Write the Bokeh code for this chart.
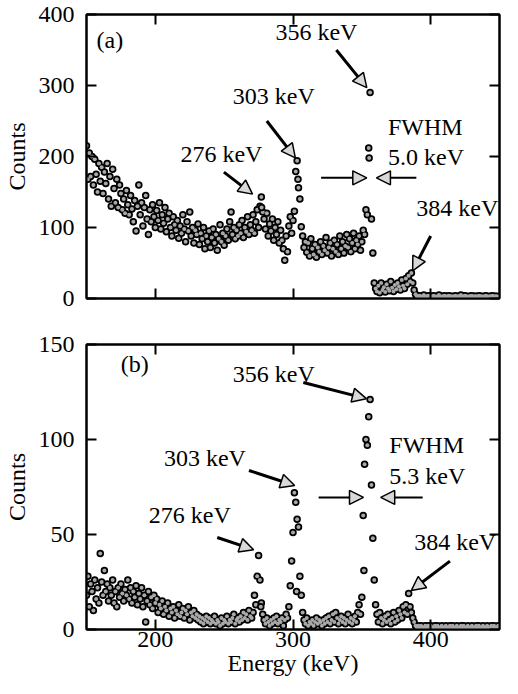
from bokeh.plotting import figure
from bokeh.layouts import column
from bokeh.models import (Range1d, LinearAxis, FixedTicker, CustomJSTickFormatter,
                          Label, Arrow, NormalHead, ColumnDataSource)
from bokeh.embed import file_html
from bokeh.resources import INLINE

FONT = "Liberation Serif"

# ---------------- data ----------------
x_ticks = [200, 300, 400]
a_y_ticks = [0, 100, 200, 300, 400]
b_y_ticks = [0, 50, 100, 150]

a_energy = list(range(150, 451))
a_counts = [
    215, 168, 205, 172, 200, 160, 196, 175, 150, 190,
    165, 185, 148, 178, 162, 190, 140, 172, 130, 182,
    155, 135, 168, 128, 160, 148, 125, 140, 120, 152,
    132, 118, 145, 126, 108, 138, 95, 130, 160, 118,
    135, 102, 128, 145, 112, 90, 125, 108, 132, 115,
    100, 124, 110, 135, 98, 118, 106, 128, 94, 112,
    120, 100, 88, 115, 104, 96, 110, 85, 102, 92,
    118, 98, 80, 108, 95, 122, 88, 100, 78, 96,
    90, 105, 76, 92, 84, 100, 70, 88, 80, 95,
    72, 86, 98, 78, 90, 68, 84, 104, 80, 92,
    75, 88, 98, 82, 108, 122, 90, 100, 84, 96,
    88, 104, 92, 110, 86, 100, 94, 115, 90, 104,
    96, 118, 92, 108, 125, 100, 130, 143, 122, 112,
    98, 120, 88, 105, 95, 112, 82, 100, 90, 108,
    78, 96, 82, 70, 54, 88, 66, 102, 115, 92,
    110, 123, 179, 194, 156, 140, 101, 88, 72, 80,
    65, 78, 60, 84, 70, 62, 76, 58, 72, 66,
    80, 62, 74, 68, 86, 64, 72, 78, 60, 70,
    82, 66, 76, 62, 88, 70, 80, 64, 74, 90,
    72, 84, 66, 78, 92, 70, 82, 76, 88, 68,
    80, 96, 90, 125, 118, 212, 290, 112, 64, 22,
    14, 10, 18, 8, 22, 12, 16, 9, 20, 14,
    11, 24, 15, 10, 19, 13, 22, 17, 12, 26,
    18, 14, 28, 20, 32, 24, 36, 22, 12, 6,
    3, 3, 4, 2, 3, 5, 3, 2, 4, 3,
    3, 2, 4, 3, 2, 3, 5, 3, 2, 3,
    4, 3, 2, 4, 3, 3, 2, 3, 4, 2,
    3, 3, 5, 2, 3, 4, 3, 2, 3, 3,
    4, 2, 3, 3, 2, 4, 3, 3, 2, 3,
    4, 3, 2, 3, 3, 4, 2, 3, 3, 2,
    3,
]
a_extra_energy = [355.3, 303.6, 277.2]
a_extra_counts = [198, 168, 128]

b_energy = list(range(150, 451))
b_counts = [
    18, 28, 12, 24, 20, 10, 26, 16, 22, 14,
    40, 25, 18, 31, 20, 24, 15, 22, 18, 26,
    14, 20, 12, 22, 17, 24, 19, 15, 21, 18,
    26, 16, 22, 14, 20, 17, 23, 13, 19, 16,
    22, 12, 18, 4, 15, 20, 13, 17, 11, 18,
    14, 16, 9, 13, 11, 15, 8, 12, 10, 14,
    7, 11, 9, 12, 6, 10, 8, 13, 7, 9,
    11, 6, 10, 8, 12, 5, 9, 7, 10, 6,
    8, 5, 7, 4, 6, 3, 5, 7, 4, 6,
    3, 5, 4, 7, 3, 5, 4, 2, 6, 3,
    5, 4, 7, 3, 5, 4, 6, 8, 3, 5,
    6, 4, 7, 5, 9, 6, 8, 5, 10, 7,
    6, 9, 18, 13, 28, 39, 26, 14, 8, 5,
    3, 6, 4, 2, 5, 3, 6, 4, 7, 3,
    5, 4, 6, 2, 5, 8, 6, 12, 23, 36,
    51, 72, 67, 58, 54, 28, 18, 9, 5, 3,
    6, 2, 4, 3, 5, 2, 4, 6, 3, 5,
    4, 2, 5, 3, 6, 4, 7, 3, 5, 8,
    4, 9, 6, 3, 5, 7, 4, 6, 3, 5,
    8, 4, 6, 3, 5, 7, 4, 9, 13, 8,
    17, 60, 87, 100, 97, 112, 121, 76, 48, 26,
    13, 8, 4, 9, 6, 3, 5, 7, 4, 8,
    5, 3, 6, 9, 4, 7, 5, 10, 8, 6,
    12, 9, 13, 8, 19, 12, 9, 6, 4, 2,
    1, 2, 1, 2, 1, 1, 2, 1, 2, 1,
    2, 1, 1, 2, 1, 2, 1, 1, 2, 1,
    1, 2, 1, 1, 2, 1, 2, 1, 1, 2,
    1, 1, 2, 1, 2, 1, 1, 2, 1, 1,
    2, 1, 1, 2, 1, 2, 1, 1, 2, 1,
    1, 2, 1, 1, 2, 1, 2, 1, 1, 2,
    1,
]
b_extra_energy = [351.5, 302.6, 276.6]
b_extra_counts = [31, 20, 12]

# ---------------- helpers ----------------
def blank():
    return CustomJSTickFormatter(code="return ''")


def style_axis(ax, ticks, standoff):
    ax.ticker = FixedTicker(ticks=ticks)
    ax.axis_line_width = 2
    ax.axis_line_color = "black"
    ax.major_tick_line_width = 2
    ax.major_tick_line_color = "black"
    ax.major_tick_in = 10
    ax.major_tick_out = 0
    ax.minor_tick_line_color = None
    ax.major_label_text_font = FONT
    ax.major_label_text_font_size = "24px"
    ax.major_label_text_color = "black"
    ax.major_label_standoff = standoff
    ax.axis_label_text_font = FONT
    ax.axis_label_text_font_size = "24px"
    ax.axis_label_text_font_style = "normal"
    ax.axis_label_text_color = "black"


def make_panel(height, y_max, y_ticks, border_top, border_bottom, show_x):
    p = figure(width=502, height=height,
               x_range=Range1d(150, 450), y_range=Range1d(0, y_max),
               output_backend="svg", toolbar_location=None,
               min_border_left=74, min_border_right=3,
               min_border_top=border_top, min_border_bottom=border_bottom)
    p.grid.visible = False
    p.outline_line_color = "black"
    p.outline_line_width = 2
    p.background_fill_color = "white"
    p.border_fill_color = "white"
    style_axis(p.xaxis[0], x_ticks, 2)
    style_axis(p.yaxis[0], y_ticks, 12)
    p.yaxis[0].axis_label = "Counts"
    p.yaxis[0].axis_label_standoff = 6
    if show_x:
        p.xaxis[0].axis_label = "Energy (keV)"
        p.xaxis[0].axis_label_standoff = 0
    else:
        p.xaxis[0].formatter = blank()
        p.xaxis[0].major_label_text_font_size = "0px"
        p.xaxis[0].major_label_standoff = 0
    top = LinearAxis(formatter=blank())
    style_axis(top, x_ticks, 0)
    top.major_label_text_font_size = "0px"
    p.add_layout(top, "above")
    right = LinearAxis(formatter=blank())
    style_axis(right, y_ticks, 0)
    right.major_label_text_font_size = "0px"
    p.add_layout(right, "right")
    return p


def add_points(p, xs, ys):
    src = ColumnDataSource(dict(x=xs, y=ys))
    p.scatter("x", "y", source=src, size=7.5, fill_color="black", line_color=None)
    p.scatter("x", "y", source=src, size=4, fill_color="#a8a8a8", line_color=None)


def label(p, x, y, text, align="center"):
    p.add_layout(Label(x=x, y=y, text=text, text_font=FONT, text_font_size="24px",
                       text_align=align, text_baseline="middle", text_color="black"))


def arrow(p, x0, y0, x1, y1, lw=3, size=14):
    p.add_layout(Arrow(end=NormalHead(size=size, fill_color="#d8d8d8", line_color="black",
                                      line_width=1.5),
                       x_start=x0, y_start=y0, x_end=x1, y_end=y1,
                       line_width=lw, line_color="black"))


# ---------------- panel (a) ----------------
p1 = make_panel(312, 400, a_y_ticks, 14, 14, False)
add_points(p1, a_energy, a_counts)
add_points(p1, a_extra_energy, a_extra_counts)
label(p1, 167, 364, "(a)")
label(p1, 317, 375, "356 keV")
arrow(p1, 331.5, 350, 353.6, 297)
label(p1, 286, 285, "303 keV")
arrow(p1, 281, 250, 301.7, 198)
label(p1, 248, 204, "276 keV")
arrow(p1, 249.8, 178, 270.6, 147)
label(p1, 369, 241, "FWHM", "left")
label(p1, 369, 200, "5.0 keV", "left")
arrow(p1, 320.4, 170, 353.6, 170, lw=2)
arrow(p1, 389.6, 170, 360.6, 170, lw=2)
label(p1, 389.6, 128, "384 keV", "left")
arrow(p1, 400, 88, 386.9, 39)

# ---------------- panel (b) ----------------
p2 = make_panel(366, 150, b_y_ticks, 32, 40, True)
add_points(p2, b_energy, b_counts)
add_points(p2, b_extra_energy, b_extra_counts)
label(p2, 185, 139.5, "(b)")
label(p2, 286, 134.7, "356 keV")
arrow(p2, 307.5, 130, 353.3, 121.5)
label(p2, 236, 90.5, "303 keV")
arrow(p2, 268, 83.7, 301.2, 75.8)
label(p2, 225, 60.5, "276 keV")
arrow(p2, 245, 48.4, 271.4, 42)
label(p2, 370, 97, "FWHM", "left")
label(p2, 370, 81, "5.3 keV", "left")
arrow(p2, 318.6, 69.5, 351.2, 69.5, lw=2)
arrow(p2, 394.2, 69.5, 363.7, 69.5, lw=2)
label(p2, 388, 45.8, "384 keV", "left")
arrow(p2, 414, 36.0, 385.9, 20.5)

layout = column(p1, p2)
open("out.html", "w").write(file_html(layout, INLINE))
